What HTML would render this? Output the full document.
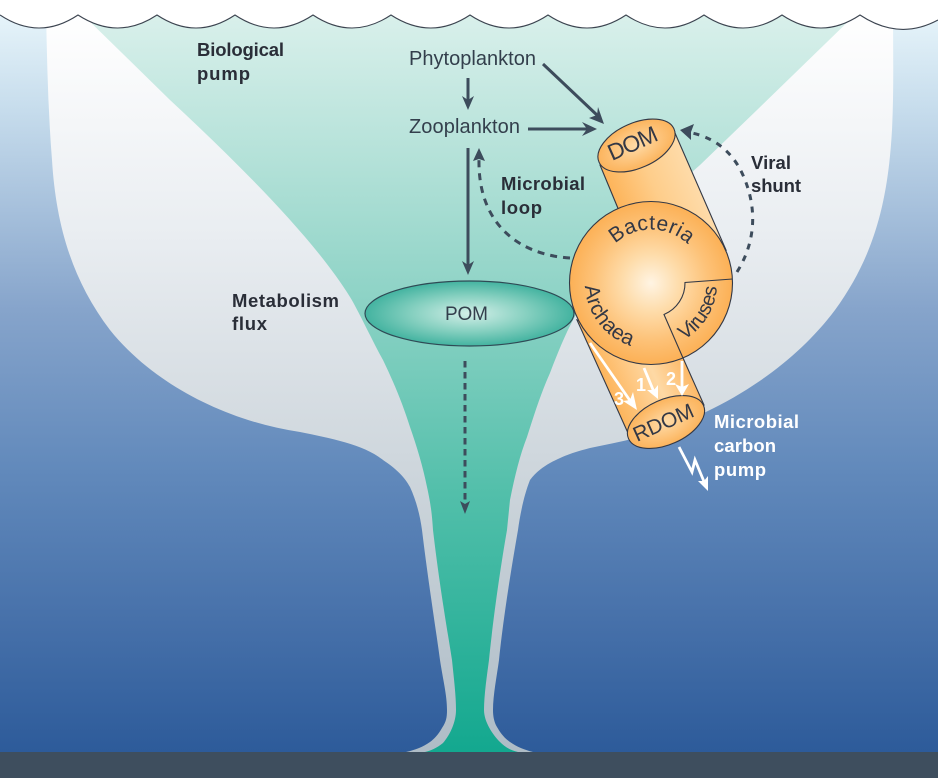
<!DOCTYPE html>
<html><head><meta charset="utf-8"><title>Biological and microbial carbon pump</title>
<style>
html,body{margin:0;padding:0;background:#fff;width:938px;height:778px;overflow:hidden}
svg{display:block}
text{font-family:"Liberation Sans",sans-serif}
.lab{font-size:20px;fill:#333f4c}
.bold{font-size:18.5px;font-weight:bold;fill:#2a2e38}
.wh{font-size:18.5px;font-weight:bold;fill:#fff}
.cyl{font-size:21px;fill:#333845}
.num{font-size:18px;font-weight:bold;fill:#fff}
</style></head><body>
<svg width="938" height="778" viewBox="0 0 938 778" xmlns="http://www.w3.org/2000/svg">
<defs>
<linearGradient id="ocean" x1="0" y1="15" x2="0" y2="752" gradientUnits="userSpaceOnUse">
<stop offset="0" stop-color="#e6f4fa"/><stop offset=".13" stop-color="#c6dcec"/><stop offset=".4" stop-color="#86a4cb"/><stop offset=".62" stop-color="#6189bb"/><stop offset=".82" stop-color="#4771aa"/><stop offset="1" stop-color="#2d5b9a"/>
</linearGradient>
<linearGradient id="grey" x1="0" y1="15" x2="0" y2="752" gradientUnits="userSpaceOnUse">
<stop offset="0" stop-color="#ffffff"/><stop offset=".3" stop-color="#e9edf1"/><stop offset=".6" stop-color="#cfd7dd"/><stop offset="1" stop-color="#aebcc6"/>
</linearGradient>
<linearGradient id="teal" x1="0" y1="15" x2="0" y2="752" gradientUnits="userSpaceOnUse">
<stop offset="0" stop-color="#d9f0eb"/><stop offset=".2" stop-color="#b3e1d8"/><stop offset=".38" stop-color="#8ed3c6"/><stop offset=".65" stop-color="#52bfaa"/><stop offset="1" stop-color="#13a88f"/>
</linearGradient>
<radialGradient id="pomg" cx="469.5" cy="313.5" r="1" gradientUnits="userSpaceOnUse" gradientTransform="translate(469.5 313.5) scale(104.5 32.5) translate(-469.5 -313.5)">
<stop offset="0" stop-color="#d3efe8"/><stop offset=".55" stop-color="#86d0c0"/><stop offset="1" stop-color="#43b3a0"/>
</radialGradient>
<radialGradient id="sph" cx="651" cy="283" r="82" gradientUnits="userSpaceOnUse">
<stop offset="0" stop-color="#fff4e3"/><stop offset=".35" stop-color="#fedcaa"/><stop offset=".7" stop-color="#fdc278"/><stop offset="1" stop-color="#fcb055"/>
</radialGradient>
<linearGradient id="cyl1" x1="600" y1="165" x2="675" y2="133" gradientUnits="userSpaceOnUse">
<stop offset="0" stop-color="#fdb45a"/><stop offset=".5" stop-color="#fecd8a"/><stop offset="1" stop-color="#fedba9"/>
</linearGradient>
<linearGradient id="cyl2" x1="600" y1="375" x2="675" y2="341" gradientUnits="userSpaceOnUse">
<stop offset="0" stop-color="#fdb45a"/><stop offset=".6" stop-color="#fed9a5"/><stop offset="1" stop-color="#fdb968"/>
</linearGradient>
<radialGradient id="capg" cx=".5" cy=".5" r=".55">
<stop offset="0" stop-color="#fedba8"/><stop offset="1" stop-color="#fcb055"/>
</radialGradient>
<path id="arc-bac" d="M611 248 A53 53 0 0 1 693 250"/>
<path id="arc-arc" d="M585 284 A66 66 0 0 0 648 349"/>
<path id="arc-vir" d="M684 340 A66 66 0 0 0 717 285"/>
</defs>

<rect x="0" y="0" width="938" height="778" fill="url(#ocean)"/>
<path fill="url(#grey)" d="M46 10 C47 60 48 110 52 160 C56 225 72 280 110 330 C150 380 220 420 300 432 C330 438 365 445 383 460 C398 470 405 478 410 487 C416 500 420 515 422 530 C428 580 436 630 440 660 C443 680 447 695 447 710 C447 718 446 722 442 728 C438 735 434 739 430 742 C423 747 415 750 406 752 L533 752 C525 750 517 747 510 742 C503 737 500 732 497 727 C494 722 493 716 493 710 C493 695 497 675 499 660 C503 620 511 570 518 530 C520 515 524 495 530 480 C536 472 543 467 550 463 C565 455 575 452 590 448 C610 444 630 440 650 434 C720 412 790 370 835 310 C875 255 888 200 892 130 C894 90 893 50 893 10 Z"/>
<path fill="url(#teal)" d="M78 10 L170 100 C240 165 315 240 350 297 C358 310 372 340 383 360 C395 385 403 405 410 427 C417 447 423 467 427 487 C431 505 432 515 433 530 C440 590 449 640 452 660 C454 680 456 695 456 710 C456 722 450 735 443 743 C437 748 430 751 425 752 L518 752 C510 750 505 747 500 742 C493 735 484 722 484 710 C484 695 487 675 489 660 C493 620 500 570 507 530 C508 520 509 510 510 500 C515 475 520 455 527 437 C534 415 541 393 550 373 C558 352 565 335 573 320 C610 250 660 200 700 165 L757 110 L860 10 Z"/>
<path fill="#fff" stroke="none" d="M0 0 L938 0 L938 20 L938 20 Q899 41 860 15 Q821 41 782 15 Q743 41 704 15 Q665 41 626 15 Q587 41 548 15 Q509 41 470 15 Q431 41 391 15 Q352 41 313 15 Q274 41 235 15 Q196 41 157 15 Q118 41 78 15 Q39 41 0 15 Z"/>
<path fill="none" stroke="#3c4450" stroke-width="1.1" d="M0 15 Q39 41 78 15 Q118 41 157 15 Q196 41 235 15 Q274 41 313 15 Q352 41 391 15 Q431 41 470 15 Q509 41 548 15 Q587 41 626 15 Q665 41 704 15 Q743 41 782 15 Q821 41 860 15 Q899 41 938 20"/>
<rect x="0" y="752" width="938" height="26" fill="#3e4e5e"/>

<text class="bold"><tspan x="197" y="56" textLength="87">Biological</tspan><tspan x="197" y="80" textLength="53">pump</tspan></text>
<text class="bold"><tspan x="232" y="307" textLength="107">Metabolism</tspan><tspan x="232" y="330" textLength="35">flux</tspan></text>
<text class="bold"><tspan x="501" y="190" textLength="84">Microbial</tspan><tspan x="501" y="214" textLength="41">loop</tspan></text>
<text class="bold"><tspan x="751" y="169" textLength="40">Viral</tspan><tspan x="751" y="192" textLength="50">shunt</tspan></text>
<text class="wh"><tspan x="714" y="428" textLength="85">Microbial</tspan><tspan x="714" y="452" textLength="62">carbon</tspan><tspan x="714" y="476" textLength="52">pump</tspan></text>
<text class="lab" x="409" y="65" textLength="127">Phytoplankton</text>
<text class="lab" x="409" y="133" textLength="111">Zooplankton</text>

<g stroke="#3d4c5c" stroke-width="3" fill="none">
<path d="M468 78 V102"/>
<path d="M543 64 L598 116"/>
<path d="M528 129 H590"/>
<path d="M468 148 V268"/>
<path stroke-dasharray="7 6" d="M570 258 C520 255 478 225 479 160"/>
<path stroke-dasharray="6 6.5" d="M737 272 C757 240 757 205 742 173 C732 152 715 138 692 133"/>
<path stroke-dasharray="6.5 4.5" d="M465 361 V503"/>
</g>
<g fill="#3d4c5c">
<path d="M468 110 L462 96 L468 100 L474 96 Z"/>
<path d="M604 124 L589 118 L597 115 L598 107 Z"/>
<path d="M597 129 L582 122 L587 129 L582 136 Z"/>
<path d="M468 275 L462 261 L468 265 L474 261 Z"/>
<path d="M479 148 L473 161 L479 159 L485 161 Z"/>
<path d="M680 130 L694 124 L691 132 L691 140 Z"/>
<path d="M465 514 L460 501 L465 504 L470 501 Z"/>
</g>

<ellipse cx="469.5" cy="313.5" rx="104.5" ry="32.5" fill="url(#pomg)" stroke="#2f4a55" stroke-width="1.2"/>
<text x="445" y="320" font-size="19" fill="#333f4c" textLength="43">POM</text>

<path fill="url(#cyl1)" stroke="#333845" stroke-width="1.1" d="M600 165 L622 218 L726 250 L675 133 Z"/>
<ellipse cx="636.5" cy="145.5" rx="41" ry="22.5" transform="rotate(-24 636.5 145.5)" fill="url(#capg)" stroke="#333845" stroke-width="1.1"/>
<text class="cyl" x="612" y="161" style="font-size:23px" textLength="52" transform="rotate(-24 612 161)">DOM</text>

<path fill="url(#cyl2)" stroke="#333845" stroke-width="1.1" d="M577 320 L628 433 L704 405 L683 358 Z"/>
<ellipse cx="666" cy="422" rx="41" ry="22.5" transform="rotate(-24 666 422)" fill="url(#capg)" stroke="#333845" stroke-width="1.1"/>
<text class="cyl" x="637" y="442" style="font-size:21px" textLength="64" transform="rotate(-24 637 442)">RDOM</text>

<circle cx="651" cy="283" r="81.5" fill="url(#sph)" stroke="#333845" stroke-width="1.1"/>
<path fill="none" stroke="#333845" stroke-width="1.1" d="M732.5 279 L685 282.5 A34 34 0 0 1 664 314.5 L683 358"/>
<text class="cyl"><textPath href="#arc-bac" startOffset="6" textLength="80">Bacteria</textPath></text>
<text class="cyl"><textPath href="#arc-arc" startOffset="2" textLength="80">Archaea</textPath></text>
<text class="cyl" style="font-size:20px"><textPath href="#arc-vir" startOffset="0" textLength="65">Viruses</textPath></text>

<g stroke="#fff" stroke-width="2.8" fill="none">
<path d="M590 343 L631 402"/>
<path d="M644 368 L654 392"/>
<path d="M682 361 V389"/>
<path d="M679 447 L692 472 L695 460 L705 484"/>
</g>
<g fill="#fff">
<path d="M637 410 L623 401 L630 400 L633 392 Z"/>
<path d="M658 399 L647 390 L654 390 L658 385 Z"/>
<path d="M682 396 L675 384 L682 387 L689 384 Z"/>
<path d="M708 491 L698 481 L704 481 L708 476 Z"/>
</g>
<text class="num" x="614" y="405">3</text>
<text class="num" x="636" y="391">1</text>
<text class="num" x="666" y="385">2</text>
</svg>
</body></html>
